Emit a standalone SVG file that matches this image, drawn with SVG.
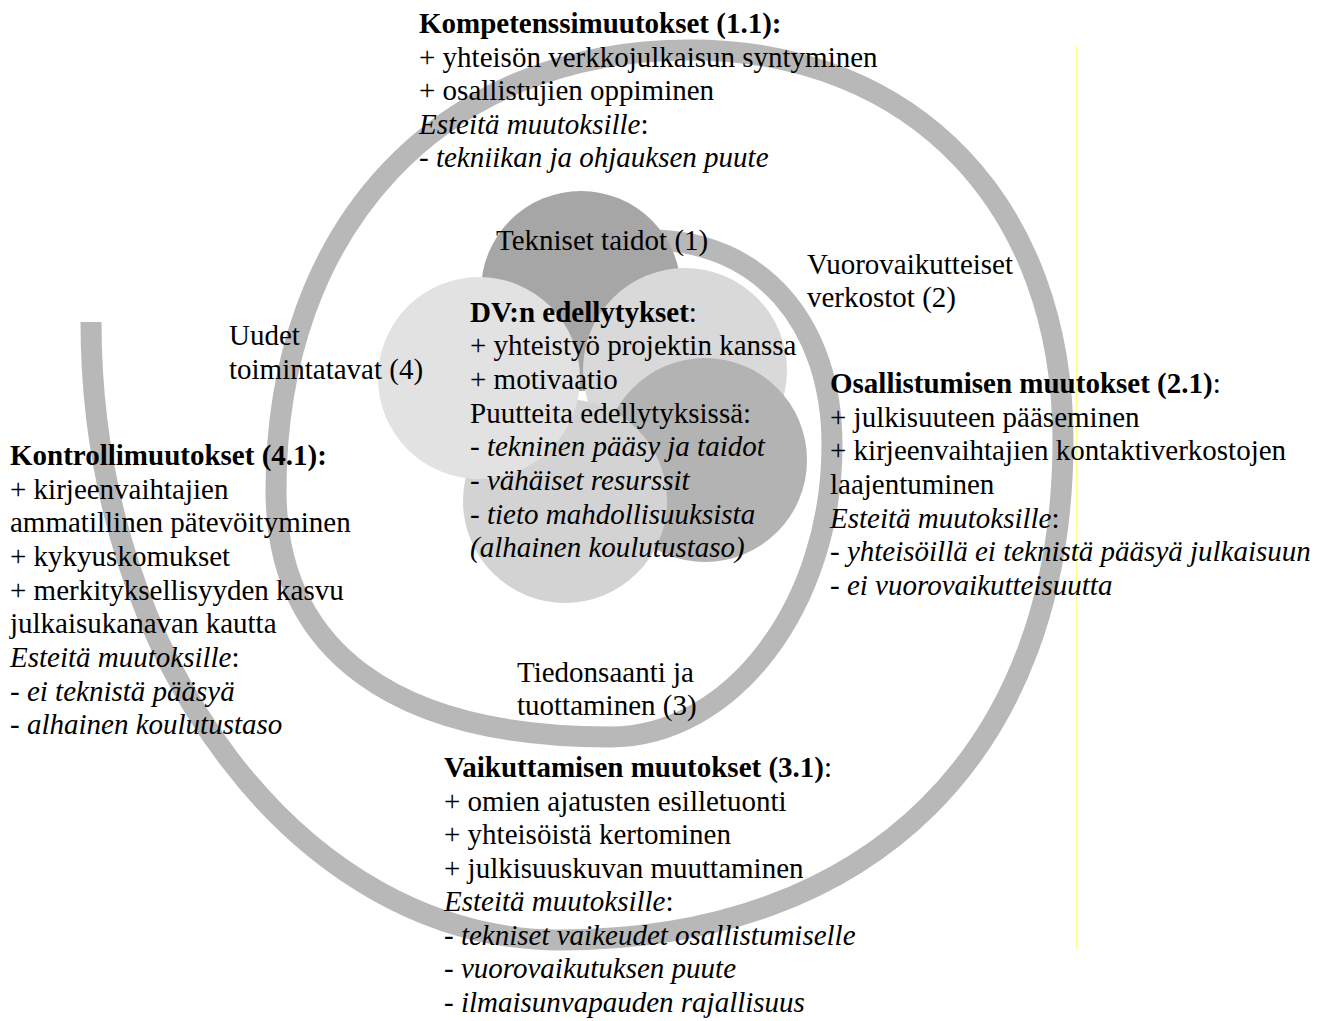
<svg xmlns="http://www.w3.org/2000/svg" width="1334" height="1021" viewBox="0 0 1334 1021">
<style>
text{font-family:"Liberation Serif","Times New Roman",serif;font-size:29px;fill:#000}
.b{font-weight:bold}
.i{font-style:italic}
.band{fill:none;stroke:#b8b8b8;stroke-width:21;stroke-linecap:butt}
</style>
<rect width="1334" height="1021" fill="#fff"/>
<g id="connectors">
<path id="spiral" class="band" d="M 650 240 C 759 240 832 322 832 445 C 832 605 732 737 610 737 C 393 737 276 650 276 490 C 276 226 442 50 690 50 C 914 50 1063 206 1063 440 C 1063 750 872 940 560 940 C 302 940 91 662 91 322"/>
<line id="yellow-line" x1="1076.5" y1="45" x2="1076.5" y2="950" stroke="#ffff80" stroke-width="1.2"/>
</g>
<g id="circles">
<circle id="c-tekniset" cx="581" cy="291" r="100" fill="#a6a6a6"/>
<circle id="c-vuoro" cx="685" cy="370" r="102" fill="#d9d9d9"/>
<circle id="c-tiedon" cx="705" cy="460" r="102" fill="#b3b3b3"/>
<circle id="c-bottom" cx="565" cy="501" r="102" fill="#d3d3d3"/>
<circle id="c-uudet" cx="479" cy="378" r="101" fill="#e2e2e2"/>
</g>
<g id="node-kompetenssi">
<text x="419" y="33" class="b">Kompetenssimuutokset (1.1):</text>
<text x="419" y="66.5">+ yhteisön verkkojulkaisun syntyminen</text>
<text x="419" y="100">+ osallistujien oppiminen</text>
<text x="419" y="133.5"><tspan class="i">Esteitä muutoksille</tspan>:</text>
<text x="419" y="167" class="i">- tekniikan ja ohjauksen puute</text>
</g>
<g id="node-tekniset"><text x="496" y="250">Tekniset taidot (1)</text></g>
<g id="node-vuoro">
<text x="807" y="274">Vuorovaikutteiset</text>
<text x="807" y="307">verkostot (2)</text>
</g>
<g id="node-uudet">
<text x="229" y="345">Uudet</text>
<text x="229" y="379">toimintatavat (4)</text>
</g>
<g id="node-dv">
<text x="470" y="321.7"><tspan class="b">DV:n edellytykset</tspan>:</text>
<text x="470" y="355.3">+ yhteistyö projektin kanssa</text>
<text x="470" y="389">+ motivaatio</text>
<text x="470" y="422.6">Puutteita edellytyksissä:</text>
<text x="470" y="456.3" class="i">- tekninen pääsy ja taidot</text>
<text x="470" y="490" class="i">- vähäiset resurssit</text>
<text x="470" y="523.6" class="i">- tieto mahdollisuuksista</text>
<text x="470" y="557.3" class="i">(alhainen koulutustaso)</text>
</g>
<g id="node-osallistumisen">
<text x="830" y="393"><tspan class="b">Osallistumisen muutokset (2.1)</tspan>:</text>
<text x="830" y="426.7">+ julkisuuteen pääseminen</text>
<text x="830" y="460.3">+ kirjeenvaihtajien kontaktiverkostojen</text>
<text x="830" y="494">laajentuminen</text>
<text x="830" y="527.6"><tspan class="i">Esteitä muutoksille</tspan>:</text>
<text x="830" y="561.3" class="i">- yhteisöillä ei teknistä pääsyä julkaisuun</text>
<text x="830" y="595" class="i">- ei vuorovaikutteisuutta</text>
</g>
<g id="node-kontrolli">
<text x="10" y="465" class="b">Kontrollimuutokset (4.1):</text>
<text x="10" y="498.6">+ kirjeenvaihtajien</text>
<text x="10" y="532.3">ammatillinen pätevöityminen</text>
<text x="10" y="566">+ kykyuskomukset</text>
<text x="10" y="599.6">+ merkityksellisyyden kasvu</text>
<text x="10" y="633.3">julkaisukanavan kautta</text>
<text x="10" y="667"><tspan class="i">Esteitä muutoksille</tspan>:</text>
<text x="10" y="700.6" class="i">- ei teknistä pääsyä</text>
<text x="10" y="734.3" class="i">- alhainen koulutustaso</text>
</g>
<g id="node-tiedon">
<text x="517" y="682">Tiedonsaanti ja</text>
<text x="517" y="715">tuottaminen (3)</text>
</g>
<g id="node-vaikuttamisen">
<text x="444" y="777"><tspan class="b">Vaikuttamisen muutokset (3.1)</tspan>:</text>
<text x="444" y="810.5">+ omien ajatusten esilletuonti</text>
<text x="444" y="844">+ yhteisöistä kertominen</text>
<text x="444" y="877.5">+ julkisuuskuvan muuttaminen</text>
<text x="444" y="911"><tspan class="i">Esteitä muutoksille</tspan>:</text>
<text x="444" y="944.5" class="i">- tekniset vaikeudet osallistumiselle</text>
<text x="444" y="978" class="i">- vuorovaikutuksen puute</text>
<text x="444" y="1011.5" class="i">- ilmaisunvapauden rajallisuus</text>
</g>
</svg>
